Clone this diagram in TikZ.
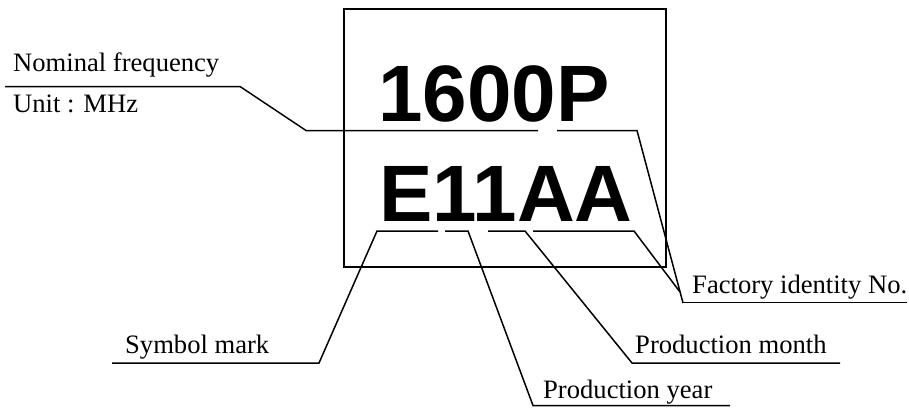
\documentclass[tikz,border=0pt]{standalone}
\usepackage{fontspec}
\setmainfont{Liberation Serif}
\newfontfamily\bigsans{Liberation Sans}
\begin{document}
\begin{tikzpicture}[x=1pt,y=-1pt,
  lbl/.style={anchor=base west,inner sep=0pt,font=\fontsize{26.6}{30}\selectfont},
  big/.style={anchor=base west,inner sep=0pt,font=\bigsans\bfseries\fontsize{80}{90}\selectfont},
  ln/.style={line width=1.5pt,line join=miter}]
\useasboundingbox (0,0) rectangle (909,407);
% box
\draw[line width=1.5pt] (344,9) rectangle (666,267);
\node[big] (t1) at (378,121) {1600P};
\node[big] (t2) at (379,221) {E11AA};
% labels
\node[lbl] (nf) at (13,71) {Nominal frequency};
\node[lbl] (un) at (13,112) {Unit : MHz};
\node[lbl] (sm) at (125,353) {Symbol mark};
\node[lbl] (py) at (543,398) {Production year};
\node[lbl] (pm) at (635,353) {Production month};
\node[lbl] (fi) at (692,293) {Factory identity No.};
% coordinates
\coordinate (a1) at (5,86.5);
\coordinate (a2) at (240,86.5);
\coordinate (a3) at (306,130.5);
\coordinate (a4) at (538,130.5);
\coordinate (b1) at (557,130.5);
\coordinate (b2) at (637,130.5);
\coordinate (b3) at (683,303);
\coordinate (c1) at (438,231);
\coordinate (c2) at (377,231);
\coordinate (c3) at (319,363);
\coordinate (c4) at (112,363);
\coordinate (d1) at (445,231);
\coordinate (d2) at (468,231);
\coordinate (d3) at (533,405.5);
\coordinate (d4) at (730,405.5);
\coordinate (e1) at (488,231);
\coordinate (e2) at (525,231);
\coordinate (e3) at (632,363);
\coordinate (e4) at (840,363);
\coordinate (f1) at (533,231);
\coordinate (f2) at (634,231);
\coordinate (f3) at (680,292);
\coordinate (g1) at (683,302.5);
\coordinate (g2) at (907,302.5);
% connectors
\draw[ln] (a1) -- (a2) -- (a3) -- (a4);
\draw[ln] (b1) -- (b2) -- (b3);
\draw[ln] (c1) -- (c2) -- (c3) -- (c4);
\draw[ln] (d1) -- (d2) -- (d3) -- (d4);
\draw[ln] (e1) -- (e2) -- (e3) -- (e4);
\draw[ln] (f1) -- (f2) -- (f3);
\draw[ln] (g1) -- (g2);
\end{tikzpicture}
\end{document}
